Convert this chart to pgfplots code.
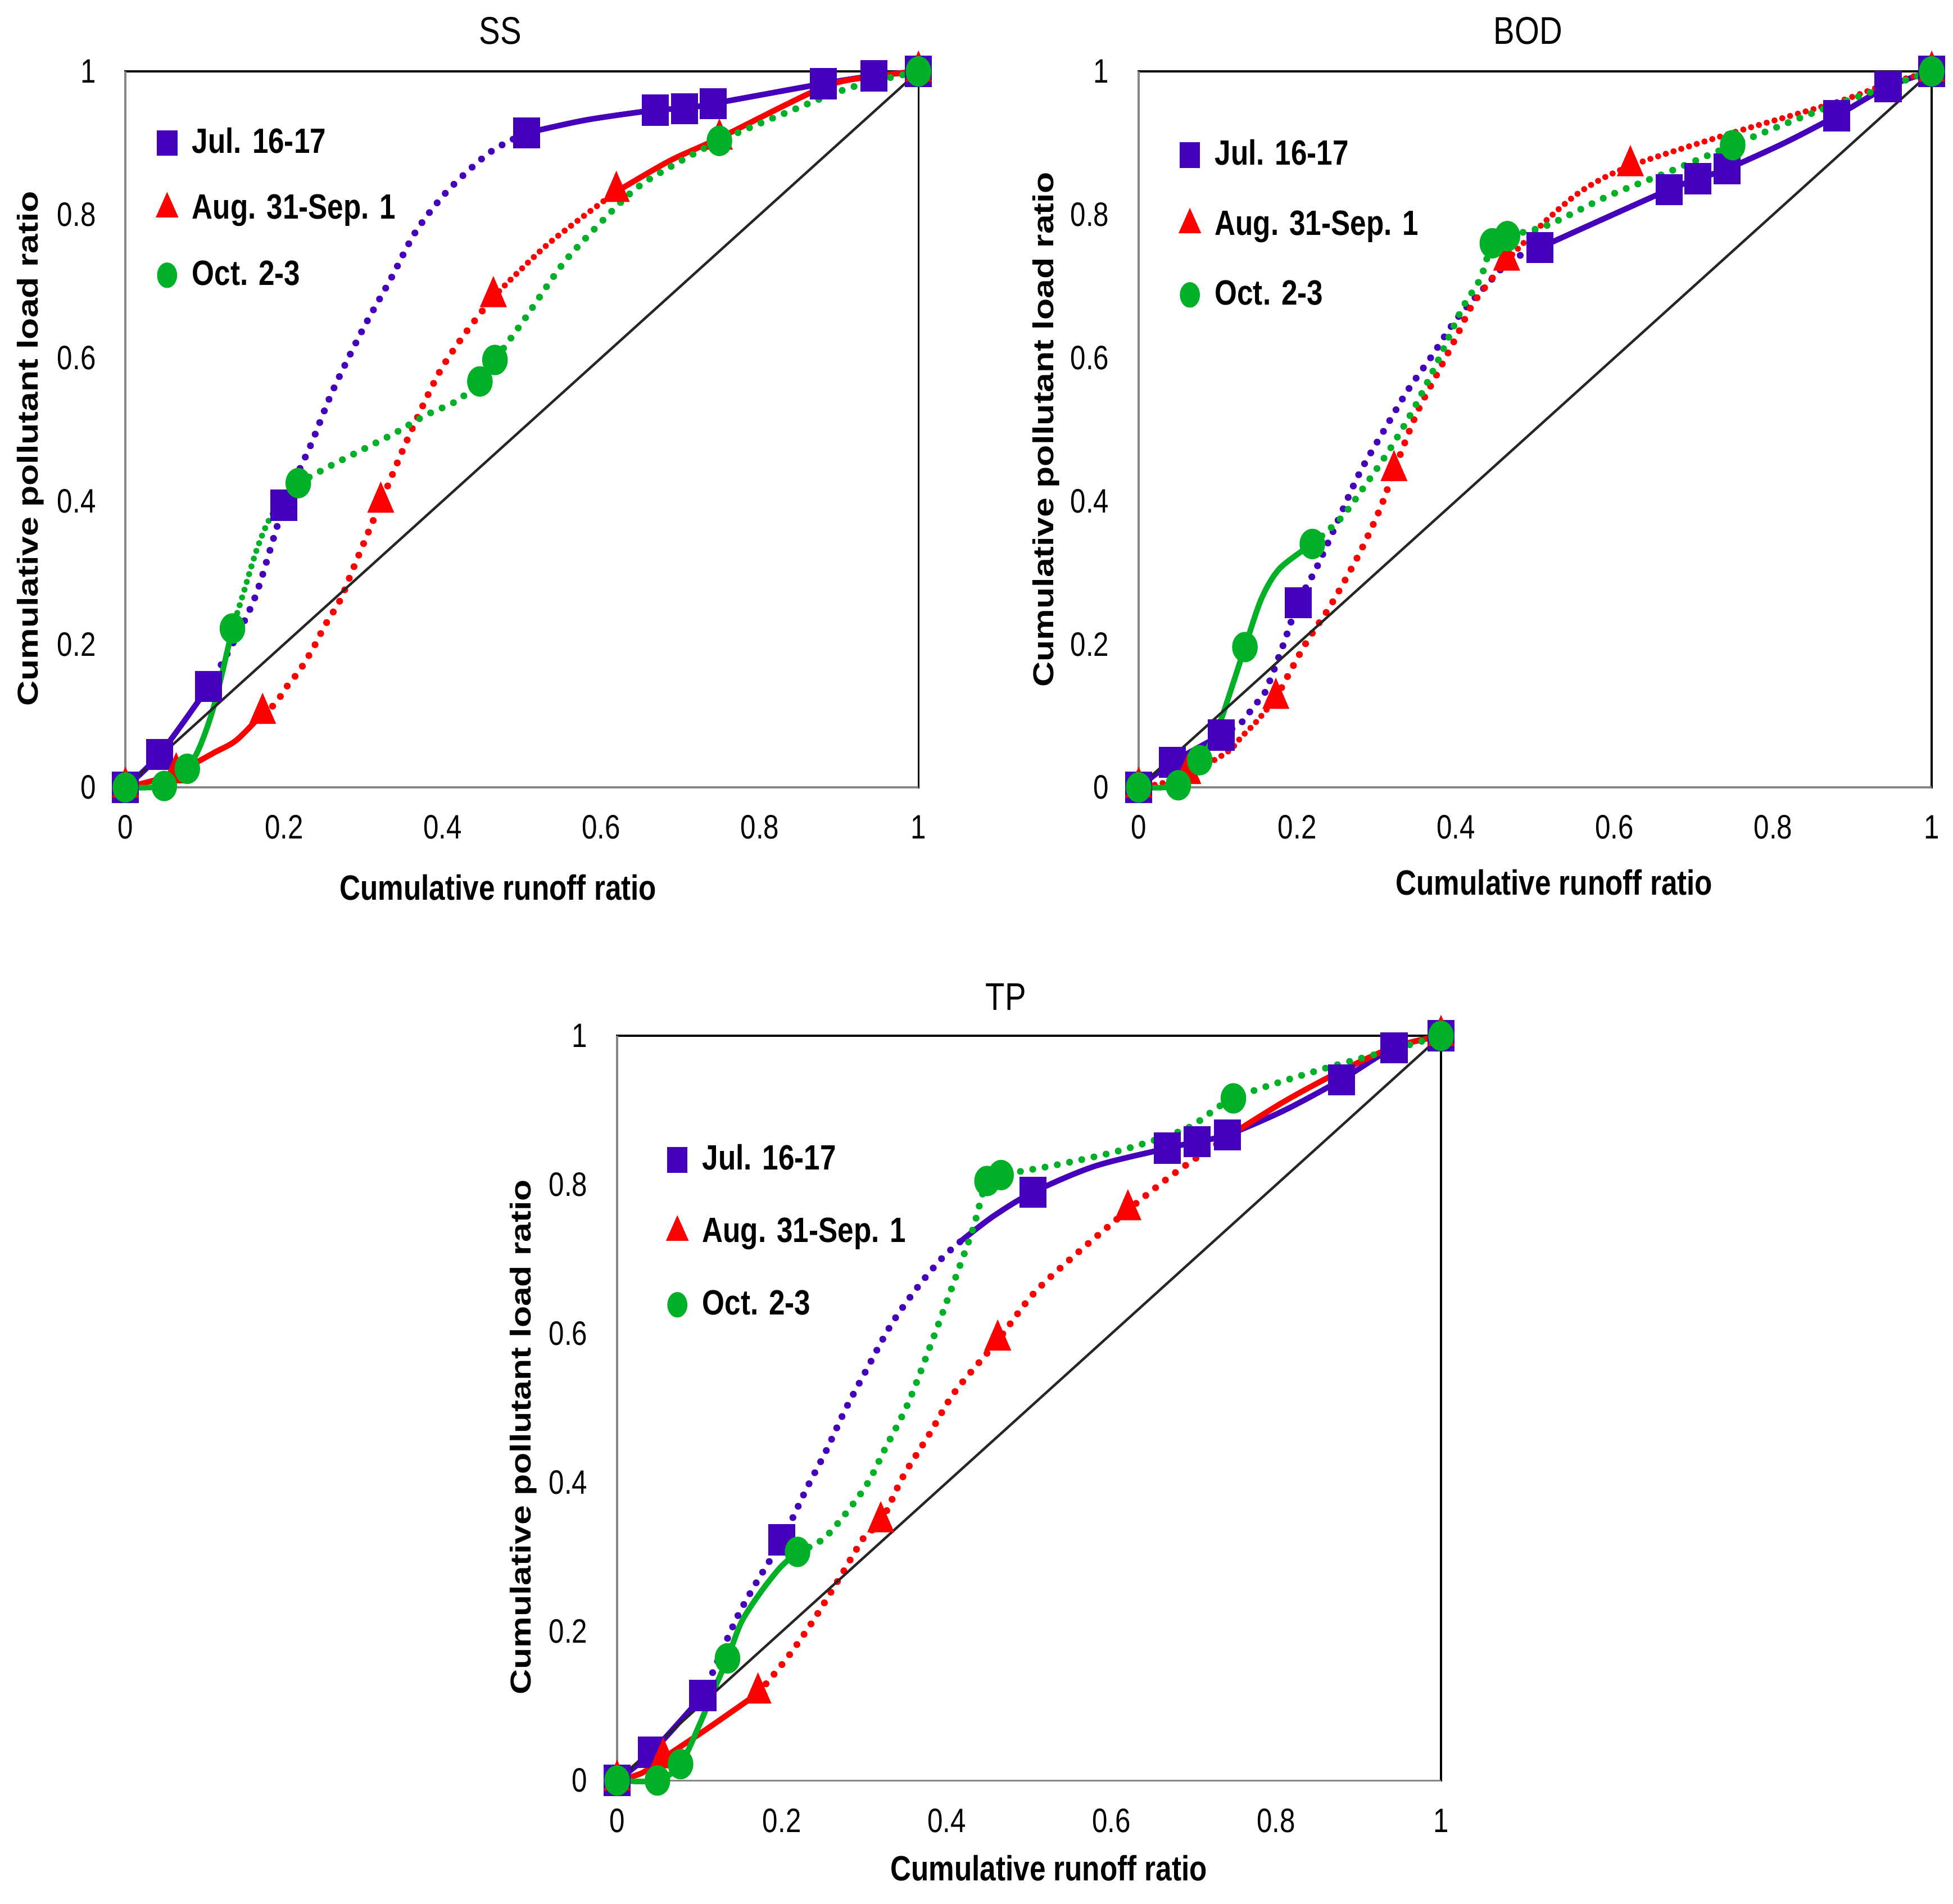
\documentclass[border=0pt]{standalone}
\usepackage{fontspec}
\setmainfont{Liberation Sans}[FakeStretch=0.82]
\newfontfamily\ylabfont{Liberation Sans}
\usepackage{graphicx}
\usepackage{pgfplots}
\pgfplotsset{compat=1.18}

\definecolor{jul}{RGB}{68,0,187}
\definecolor{aug}{RGB}{255,0,0}
\definecolor{oct}{RGB}{0,176,38}
\definecolor{axgray}{RGB}{134,134,134}

\tikzset{
  sl/.style={line width=0.45mm, line join=round, line cap=round},
  dl/.style={line width=0.55mm, line cap=round, dash pattern=on 0pt off 1.0mm},
  ddl/.style={line width=0.5mm, line cap=round, dash pattern=on 0pt off 0.65mm},
}

\pgfplotsset{
  panel/.style={
    scale only axis, clip=false,
    xmin=0, xmax=1, ymin=0, ymax=1,
    xtick={0,0.2,0.4,0.6,0.8,1}, ytick={0,0.2,0.4,0.6,0.8,1},
    major tick length=0pt,
    axis line style={black, line width=0.15mm},
    /pgf/number format/assume math mode=true,
    tick label style={font=\fontsize{7.7}{9}\selectfont, inner sep=0pt},
    xticklabel style={anchor=center, yshift=-3.2mm},
    yticklabel style={anchor=east, xshift=-2.3mm},
    title style={font=\fontsize{8.8}{10}\selectfont, anchor=center},
    xlabel style={font=\bfseries\fontsize{8}{9}\selectfont, anchor=center},
    ylabel style={font=\ylabfont\bfseries\fontsize{8}{9}\selectfont, anchor=center},
    xlabel={Cumulative runoff ratio},
    ylabel={\scalebox{1}[0.82]{Cumulative pollutant load ratio}},
    legend style={draw=none, fill=none, anchor=north west, inner sep=0pt, outer sep=0pt,
      column sep=0.8mm,
      font=\bfseries\fontsize{8}{9}\selectfont,
      nodes={inner sep=0.4mm, text height=2.05mm, text depth=0.45mm}},
    legend cell align=left,
  },
  mj/.style={only marks, mark=square*, color=jul, mark size=1.18mm, mark options={xscale=0.86}, forget plot},
  ma/.style={only marks, mark=triangle*, color=aug, mark size=1.5mm, mark options={xscale=0.75}, forget plot},
  mo/.style={only marks, mark=*, color=oct, mark size=1.15mm, mark options={xscale=0.83}, forget plot},
  lgimg/.style={legend image code/.code={\draw[mark repeat=2,mark phase=2,##1] plot coordinates {(0mm,0mm) (0.8mm,0mm) (1.6mm,0mm)};}},
  lgj/.style={only marks, mark=square*, color=jul, mark size=0.95mm, mark options={xscale=0.79}, lgimg},
  lga/.style={only marks, mark=triangle*, color=aug, mark size=1.2mm, mark options={xscale=0.77}, lgimg},
  lgo/.style={only marks, mark=*, color=oct, mark size=0.95mm, mark options={xscale=0.77}, lgimg},
}

\begin{document}
\begin{tikzpicture}
\useasboundingbox (0,0) rectangle (156.375mm,-152.46mm);

% ================= SS =================
\begin{axis}[panel, at={(10.04mm,-5.72mm)}, anchor=north west,
  width=63.5mm, height=57.33mm,
  title={SS}, title style={at={(0.473,1)}, yshift=1.13mm},
  xlabel style={at={(0.47,0)}, yshift=-8.0mm},
  ylabel style={at={(0,0.473)}, yshift=7.6mm},
  legend style={at={(0.04,0.929)}, row sep=2.0mm}]
\addlegendimage{lgj}\addlegendentry{Jul. 16-17}
\addlegendimage{lga}\addlegendentry{Aug. 31-Sep. 1}
\addlegendimage{lgo}\addlegendentry{Oct. 2-3}
\addplot[axgray, line width=0.15mm, sharp plot, forget plot] coordinates {(0,1) (0,0) (1,0)};
% Jul
\addplot[jul, sl, smooth, forget plot] coordinates {(0,0) (0.043,0.046) (0.105,0.141)};
\addplot[jul, dl, smooth, forget plot] coordinates {(0.105,0.141) (0.135,0.2) (0.165,0.27) (0.2,0.394) (0.234,0.479) (0.261,0.553) (0.299,0.639) (0.335,0.711) (0.366,0.776) (0.406,0.833) (0.456,0.884) (0.49,0.906) (0.506,0.914)};
\addplot[jul, sl, smooth, forget plot] coordinates {(0.506,0.914) (0.58,0.932) (0.668,0.946) (0.705,0.948) (0.741,0.955) (0.88,0.983) (0.944,0.994) (1,1)};
\addplot[mj] coordinates {(0,0) (0.043,0.046) (0.105,0.141) (0.2,0.394) (0.506,0.914) (0.668,0.946) (0.705,0.948) (0.741,0.955) (0.88,0.983) (0.944,0.994) (1,1)};
% Aug
\addplot[aug, sl, smooth, forget plot] coordinates {(0,0) (0.03,0.008) (0.064,0.02) (0.111,0.048) (0.14,0.066) (0.173,0.103)};
\addplot[aug, dl, smooth, forget plot] coordinates {(0.173,0.103) (0.189,0.117) (0.203,0.14) (0.22,0.164) (0.237,0.195) (0.252,0.227) (0.271,0.262) (0.287,0.305) (0.322,0.398) (0.356,0.487) (0.395,0.578) (0.429,0.635) (0.464,0.685)};
\addplot[aug, ddl, smooth, forget plot] coordinates {(0.464,0.685) (0.533,0.759) (0.619,0.832)};
\addplot[aug, sl, smooth, forget plot] coordinates {(0.619,0.832) (0.686,0.875) (0.749,0.907) (0.88,0.978) (0.944,0.993) (1,1)};
\addplot[ma] coordinates {(0,0) (0.064,0.02) (0.173,0.103) (0.322,0.398) (0.464,0.685) (0.619,0.832) (0.749,0.905) (1,1)};
% Oct
\addplot[oct, sl, smooth, forget plot] coordinates {(0,0) (0.049,0.002) (0.078,0.026) (0.095,0.06) (0.113,0.119) (0.135,0.222)};
\addplot[oct, ddl, smooth, forget plot] coordinates {(0.135,0.222) (0.149,0.272) (0.165,0.33) (0.18,0.371) (0.199,0.404) (0.218,0.425)};
\addplot[oct, dl, smooth, forget plot] coordinates {(0.218,0.425) (0.26,0.45) (0.303,0.474) (0.34,0.495) (0.379,0.52) (0.418,0.54) (0.447,0.567) (0.466,0.597) (0.502,0.652) (0.548,0.726) (0.582,0.769) (0.64,0.833) (0.686,0.866) (0.749,0.903) (0.839,0.945) (0.916,0.978) (1,1)};
\addplot[mo] coordinates {(0,0) (0.049,0.002) (0.078,0.026) (0.135,0.222) (0.218,0.425) (0.447,0.567) (0.466,0.597) (0.749,0.903) (1,1)};
\addplot[black!85, line width=0.2mm, sharp plot, forget plot] coordinates {(0,0) (1,1)};
\end{axis}

% ================= BOD =================
\begin{axis}[panel, at={(91.17mm,-5.72mm)}, anchor=north west,
  width=63.5mm, height=57.33mm,
  title={BOD}, title style={at={(0.491,1)}, yshift=1.13mm},
  xlabel style={at={(0.524,0)}, yshift=-7.6mm},
  ylabel style={at={(0,0.5)}, yshift=7.4mm},
  legend style={at={(0.052,0.912)}, row sep=2.3mm}]
\addlegendimage{lgj}\addlegendentry{Jul. 16-17}
\addlegendimage{lga}\addlegendentry{Aug. 31-Sep. 1}
\addlegendimage{lgo}\addlegendentry{Oct. 2-3}
\addplot[axgray, line width=0.15mm, sharp plot, forget plot] coordinates {(0,1) (0,0) (1,0)};
% Jul
\addplot[jul, sl, smooth, forget plot] coordinates {(0,0) (0.0425,0.035) (0.104,0.073)};
\addplot[jul, dl, smooth, forget plot] coordinates {(0.104,0.073) (0.13,0.091) (0.146,0.115) (0.159,0.132) (0.182,0.198) (0.201,0.258) (0.224,0.306) (0.251,0.372) (0.278,0.438) (0.308,0.496) (0.339,0.554) (0.37,0.603) (0.4,0.653) (0.439,0.702) (0.469,0.736) (0.506,0.754)};
\addplot[jul, sl, smooth, forget plot] coordinates {(0.506,0.754) (0.584,0.793) (0.669,0.835) (0.705,0.85) (0.742,0.864) (0.814,0.9) (0.88,0.938) (0.945,0.979) (1,1)};
\addplot[mj] coordinates {(0,0) (0.0425,0.035) (0.104,0.073) (0.201,0.258) (0.506,0.754) (0.669,0.835) (0.705,0.85) (0.742,0.864) (0.88,0.938) (0.945,0.979) (1,1)};
% Aug
\addplot[aug, ddl, smooth, forget plot] coordinates {(0,0) (0.03,0.006) (0.062,0.019) (0.095,0.038) (0.116,0.053) (0.13,0.071) (0.147,0.09) (0.173,0.124)};
\addplot[aug, dl, smooth, forget plot] coordinates {(0.173,0.124) (0.209,0.198) (0.243,0.256) (0.278,0.326) (0.304,0.388) (0.322,0.442) (0.35,0.521) (0.377,0.579) (0.4,0.628) (0.423,0.678) (0.464,0.736)};
\addplot[aug, ddl, smooth, forget plot] coordinates {(0.464,0.736) (0.515,0.793) (0.561,0.835) (0.62,0.868) (0.745,0.913) (0.88,0.957) (0.945,0.983) (1,1)};
\addplot[ma] coordinates {(0,0) (0.062,0.019) (0.173,0.124) (0.322,0.442) (0.464,0.736) (0.62,0.868) (1,1)};
% Oct
\addplot[oct, sl, smooth, forget plot] coordinates {(0,0) (0.05,0.003) (0.077,0.038) (0.09,0.061) (0.104,0.095) (0.134,0.196) (0.155,0.264) (0.178,0.306) (0.219,0.34)};
\addplot[oct, dl, smooth, forget plot] coordinates {(0.219,0.34) (0.255,0.376) (0.285,0.421) (0.316,0.471) (0.347,0.529) (0.377,0.595) (0.408,0.669) (0.431,0.711) (0.446,0.76) (0.465,0.77) (0.515,0.785) (0.592,0.826) (0.669,0.86) (0.749,0.897) (0.855,0.944) (0.965,0.987) (1,1)};
\addplot[mo] coordinates {(0,0) (0.05,0.003) (0.077,0.038) (0.134,0.196) (0.219,0.34) (0.446,0.76) (0.465,0.77) (0.749,0.897) (1,1)};
\addplot[black!85, line width=0.2mm, sharp plot, forget plot] coordinates {(0,0) (1,1)};
\end{axis}

% ================= TP =================
\begin{axis}[panel, at={(49.41mm,-82.94mm)}, anchor=north west,
  width=65.97mm, height=59.63mm,
  title={TP}, title style={at={(0.472,1)}, yshift=1.03mm},
  xlabel style={at={(0.524,0)}, yshift=-7.0mm},
  ylabel style={at={(0,0.461)}, yshift=7.5mm},
  legend style={at={(0.061,0.861)}, row sep=2.5mm}]
\addlegendimage{lgj}\addlegendentry{Jul. 16-17}
\addlegendimage{lga}\addlegendentry{Aug. 31-Sep. 1}
\addlegendimage{lgo}\addlegendentry{Oct. 2-3}
\addplot[axgray, line width=0.15mm, sharp plot, forget plot] coordinates {(0,1) (0,0) (1,0)};
% Jul
\addplot[jul, sl, smooth, forget plot] coordinates {(0,0) (0.042,0.038) (0.104,0.114)};
\addplot[jul, dl, smooth, forget plot] coordinates {(0.104,0.114) (0.143,0.213) (0.167,0.262) (0.2,0.323) (0.23,0.392) (0.253,0.441) (0.277,0.498) (0.3,0.546) (0.332,0.611) (0.363,0.66) (0.394,0.701) (0.418,0.725)};
\addplot[jul, sl, smooth, forget plot] coordinates {(0.418,0.725) (0.457,0.758) (0.505,0.79) (0.58,0.825) (0.668,0.849) (0.704,0.858) (0.741,0.867) (0.81,0.9) (0.879,0.941) (0.943,0.984) (1,1)};
\addplot[mj] coordinates {(0,0) (0.042,0.038) (0.104,0.114) (0.2,0.323) (0.505,0.79) (0.668,0.849) (0.704,0.858) (0.741,0.867) (0.879,0.941) (0.943,0.984) (1,1)};
% Aug
\addplot[aug, sl, smooth, forget plot] coordinates {(0,0) (0.03,0.01) (0.056,0.03) (0.11,0.07) (0.171,0.117)};
\addplot[aug, dl, smooth, forget plot] coordinates {(0.171,0.117) (0.206,0.164) (0.237,0.213) (0.269,0.27) (0.3,0.327) (0.32,0.347) (0.347,0.408) (0.379,0.465) (0.41,0.522) (0.462,0.591) (0.504,0.652) (0.551,0.701) (0.62,0.766) (0.676,0.815) (0.739,0.863)};
\addplot[aug, sl, smooth, forget plot] coordinates {(0.739,0.863) (0.81,0.912) (0.879,0.953) (0.943,0.985) (1,1)};
\addplot[ma] coordinates {(0,0) (0.056,0.03) (0.171,0.117) (0.32,0.347) (0.462,0.591) (0.62,0.766) (1,1)};
% Oct
\addplot[oct, sl, smooth, forget plot] coordinates {(0,0) (0.049,0) (0.077,0.022) (0.1,0.075) (0.115,0.115) (0.134,0.164) (0.151,0.213) (0.175,0.254) (0.198,0.286) (0.219,0.307)};
\addplot[oct, dl, smooth, forget plot] coordinates {(0.219,0.307) (0.253,0.327) (0.3,0.392) (0.325,0.445) (0.353,0.506) (0.382,0.589) (0.414,0.685) (0.432,0.741) (0.449,0.805) (0.466,0.813) (0.535,0.827) (0.614,0.847) (0.692,0.876) (0.748,0.916) (0.849,0.953) (0.927,0.977) (1,1)};
\addplot[mo] coordinates {(0,0) (0.049,0) (0.077,0.022) (0.134,0.164) (0.219,0.307) (0.449,0.805) (0.466,0.813) (0.748,0.916) (1,1)};
\addplot[black!85, line width=0.2mm, sharp plot, forget plot] coordinates {(0,0) (1,1)};
\end{axis}
\end{tikzpicture}
\end{document}
